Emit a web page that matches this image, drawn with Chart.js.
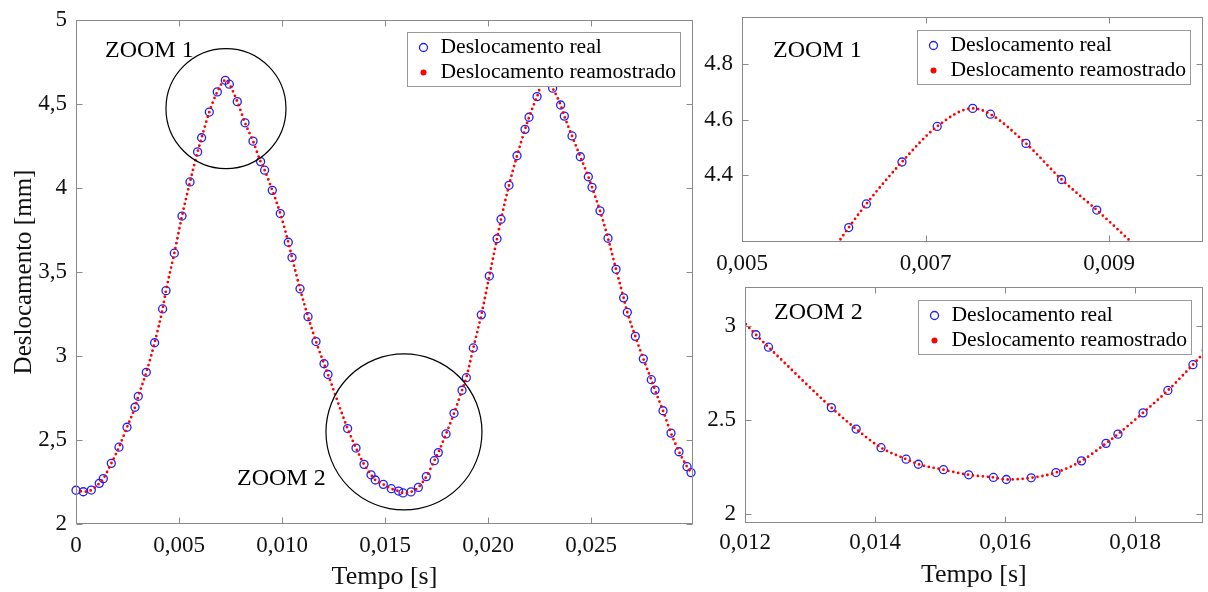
<!DOCTYPE html>
<html>
<head>
<meta charset="utf-8">
<script src="https://cdn.jsdelivr.net/npm/chart.js@4.4.0/dist/chart.umd.min.js"></script>
<style>
  body { margin: 0; background: #fff; width: 1208px; height: 592px; overflow: hidden; position: relative; }
  canvas { position: absolute; }
</style>
</head>
<body>
<canvas id="mainChart" width="700" height="592" style="left:0;top:0"></canvas>
<canvas id="zoom1Chart" width="508" height="282" style="left:700px;top:0"></canvas>
<canvas id="zoom2Chart" width="508" height="310" style="left:700px;top:282px"></canvas>
<script>
// main panel samples (time [s], displacement [mm])
var mainTime = [0, 0.000354, 0.000743, 0.001131, 0.001325, 0.001714, 0.002087, 0.002476, 0.002864, 0.003024,
  0.003413, 0.003816, 0.004204, 0.004369, 0.004772, 0.005146, 0.005534, 0.005903, 0.006097, 0.006471,
  0.006859, 0.007248, 0.007442, 0.007830, 0.008204, 0.008592, 0.008961, 0.009155, 0.009529, 0.009917,
  0.010306, 0.010485, 0.010874, 0.011262, 0.011650, 0.012039, 0.012233, 0.013184, 0.013592, 0.013981,
  0.014320, 0.014529, 0.014917, 0.015306, 0.015660, 0.015874, 0.016262, 0.016617, 0.017005, 0.017393,
  0.017587, 0.017961, 0.018350, 0.018738, 0.018947, 0.019286, 0.019675, 0.020063, 0.020437, 0.020631,
  0.021019, 0.021408, 0.021796, 0.021990, 0.022379, 0.022767, 0.023136, 0.023524, 0.023704, 0.024078,
  0.024481, 0.024869, 0.025049, 0.025437, 0.025825, 0.026214, 0.026583, 0.026762, 0.027150, 0.027539,
  0.027927, 0.028107, 0.028495, 0.028883, 0.029272, 0.029660, 0.029854];
var mainDisp = [2.201, 2.192, 2.202, 2.242, 2.270, 2.361, 2.457, 2.576, 2.695, 2.760,
  2.903, 3.079, 3.280, 3.389, 3.612, 3.833, 4.036, 4.215, 4.299, 4.452,
  4.572, 4.641, 4.618, 4.514, 4.388, 4.279, 4.157, 4.106, 3.986, 3.848,
  3.677, 3.586, 3.400, 3.234, 3.086, 2.954, 2.890, 2.568, 2.452, 2.355,
  2.293, 2.262, 2.236, 2.210, 2.196, 2.185, 2.191, 2.218, 2.282, 2.377,
  2.425, 2.536, 2.659, 2.796, 2.871, 3.048, 3.245, 3.476, 3.698, 3.814,
  4.016, 4.192, 4.349, 4.421, 4.544, 4.660, 4.594, 4.494, 4.428, 4.310,
  4.186, 4.067, 4.004, 3.864, 3.701, 3.516, 3.346, 3.260, 3.117, 2.983,
  2.859, 2.797, 2.674, 2.541, 2.430, 2.341, 2.306];

// zoom 1 samples
var zoom1Time = [0.005795, 0.006163, 0.006355, 0.006743, 0.007127, 0.007514, 0.007707, 0.008094, 0.008482, 0.008866, 0.009415];
var zoom1Disp = [4.036, 4.212, 4.297, 4.448, 4.576, 4.641, 4.620, 4.515, 4.385, 4.275, 4.106];

// zoom 2 samples
var zoom2Time = [0.011800, 0.012168, 0.012362, 0.013328, 0.013710, 0.014092, 0.014478, 0.014667, 0.015053, 0.015440,
  0.015821, 0.016020, 0.016402, 0.016783, 0.017176, 0.017553, 0.017736, 0.018122, 0.018504, 0.018890, 0.019095];
var zoom2Disp = [3.086, 2.953, 2.887, 2.566, 2.452, 2.353, 2.292, 2.265, 2.236, 2.209,
  2.195, 2.184, 2.193, 2.221, 2.283, 2.376, 2.425, 2.538, 2.657, 2.794, 2.871];

// ticks
var mainXTicks = [0, 0.005, 0.010, 0.015, 0.020, 0.025];
var mainXLabels = ["0", "0,005", "0,010", "0,015", "0,020", "0,025"];
var mainYTicks = [2, 2.5, 3, 3.5, 4, 4.5, 5];
var mainYLabels = ["2", "2,5", "3", "3,5", "4", "4,5", "5"];
var zoom1XTicks = [0.005, 0.007, 0.009];
var zoom1XLabels = ["0,005", "0,007", "0,009"];
var zoom1YTicks = [4.4, 4.6, 4.8];
var zoom1YLabels = ["4.4", "4.6", "4.8"];
var zoom2XTicks = [0.012, 0.014, 0.016, 0.018];
var zoom2XLabels = ["0,012", "0,014", "0,016", "0,018"];
var zoom2YTicks = [2, 2.5, 3];
var zoom2YLabels = ["2", "2.5", "3"];

var legendLabels = ["Deslocamento real", "Deslocamento reamostrado"];
var FONT = '"Liberation Serif", "Times New Roman", serif';
var TEXT = "#111";
var AXIS = "#8a8a8a";

// box, inward ticks, notes, circles and the framed legend
var panelDecor = {
  id: "panelDecor",
  afterDatasetsDraw: function(chart, args, opts) {
    var ctx = chart.ctx, a = chart.chartArea;
    var xs = chart.scales.x, ys = chart.scales.y;
    ctx.save();

    ctx.strokeStyle = "#000";
    ctx.lineWidth = 1.2;
    (opts.circles || []).forEach(function(c) {
      ctx.beginPath();
      ctx.arc(xs.getPixelForValue(c.t), ys.getPixelForValue(c.v), c.r, 0, 2 * Math.PI);
      ctx.stroke();
    });

    ctx.font = "24px " + FONT;
    ctx.fillStyle = "#000";
    ctx.textBaseline = "middle";
    ctx.textAlign = "left";
    (opts.notes || []).forEach(function(n) { ctx.fillText(n.text, n.x, n.y); });

    // axes box with ticks pointing inwards
    ctx.strokeStyle = AXIS;
    ctx.lineWidth = 1;
    var L = Math.round(a.left) + 0.5, R = Math.round(a.right) - 0.5;
    var T = Math.round(a.top) + 0.5, B = Math.round(a.bottom) - 0.5;
    ctx.strokeRect(L, T, R - L, B - T);
    ctx.beginPath();
    xs.ticks.forEach(function(t) {
      var px = Math.round(xs.getPixelForValue(t.value)) + 0.5;
      ctx.moveTo(px, B); ctx.lineTo(px, B - 6);
      ctx.moveTo(px, T); ctx.lineTo(px, T + 6);
    });
    ys.ticks.forEach(function(t) {
      var py = Math.round(ys.getPixelForValue(t.value)) + 0.5;
      ctx.moveTo(L, py); ctx.lineTo(L + 6, py);
      ctx.moveTo(R, py); ctx.lineTo(R - 6, py);
    });
    ctx.stroke();

    // legend
    var w = 273, h = 54;
    var bx = Math.round(a.right - opts.legendRight - w) - 0.5;
    var by = Math.round(a.top + opts.legendTop) + 0.5;
    ctx.fillStyle = "#fff";
    ctx.fillRect(bx, by, w, h);
    ctx.strokeStyle = "#9a9a9a";
    ctx.strokeRect(bx, by, w, h);

    ctx.beginPath();
    ctx.arc(bx + 16, by + 15, 4, 0, 2 * Math.PI);
    ctx.strokeStyle = "#1f1fff";
    ctx.lineWidth = 1.3;
    ctx.stroke();
    ctx.beginPath();
    ctx.arc(bx + 16, by + 40, 3, 0, 2 * Math.PI);
    ctx.fillStyle = "#ff0000";
    ctx.fill();

    ctx.font = "21.6px " + FONT;
    ctx.fillStyle = "#000";
    ctx.fillText(legendLabels[0], bx + 33, by + 15);
    ctx.fillText(legendLabels[1], bx + 33, by + 40);
    ctx.restore();
  }
};

function makePanel(id, p) {
  var ctx = document.getElementById(id).getContext("2d");
  var points = p.time.map(function(t, i) { return { x: t, y: p.disp[i] }; });
  return new Chart(ctx, {
    type: "line",
    data: {
      datasets: [{
        label: legendLabels[1],
        data: points,
        borderColor: "#ff0000",
        borderWidth: 2.8,
        borderDash: [0, 5],
        borderCapStyle: "round",
        cubicInterpolationMode: "monotone",
        pointRadius: 0,
        fill: false,
        clip: 0
      }, {
        label: legendLabels[0],
        data: points,
        showLine: false,
        pointRadius: 4,
        pointBorderWidth: 1.3,
        pointBorderColor: "#1f1fff",
        pointBackgroundColor: "rgba(0,0,0,0)",
        clip: p.pointClip
      }]
    },
    plugins: [panelDecor],
    options: {
      responsive: false,
      animation: false,
      layout: { padding: p.padding },
      plugins: {
        legend: { display: false },
        tooltip: { enabled: false },
        panelDecor: { circles: p.circles, notes: p.notes, legendRight: p.legendRight, legendTop: p.legendTop }
      },
      scales: {
        x: {
          type: "linear",
          min: p.xMin,
          max: p.xMax,
          grid: { display: false, drawTicks: false },
          border: { display: false },
          afterBuildTicks: function(s) { s.ticks = p.xTicks.map(function(v) { return { value: v }; }); },
          afterFit: function(s) { s.height = p.xHeight; s.paddingLeft = 0; s.paddingRight = 0; },
          ticks: {
            padding: p.xPad,
            maxRotation: 0,
            autoSkip: false,
            color: TEXT,
            font: { family: FONT, size: 23 },
            callback: function(v, i) { return p.xLabels[i]; }
          },
          title: {
            display: !!p.xTitle,
            text: p.xTitle,
            color: TEXT,
            font: { family: FONT, size: 26, lineHeight: 1 },
            padding: { top: 0, bottom: p.xTitlePad }
          }
        },
        y: {
          type: "linear",
          min: p.yMin,
          max: p.yMax,
          grid: { display: false, drawTicks: false },
          border: { display: false },
          afterBuildTicks: function(s) { s.ticks = p.yTicks.map(function(v) { return { value: v }; }); },
          afterFit: function(s) { s.width = p.yWidth; s.paddingTop = 0; s.paddingBottom = 0; },
          ticks: {
            padding: p.yPad,
            autoSkip: false,
            color: TEXT,
            font: { family: FONT, size: 23 },
            callback: function(v, i) { return p.yLabels[i]; }
          },
          title: {
            display: !!p.yTitle,
            text: p.yTitle,
            color: TEXT,
            font: { family: FONT, size: 25, lineHeight: 1 },
            padding: { top: p.yTitlePad, bottom: 0 }
          }
        }
      }
    }
  });
}

makePanel("mainChart", {
  time: mainTime, disp: mainDisp,
  xMin: 0, xMax: 0.02995, yMin: 2, yMax: 5,
  xTicks: mainXTicks, xLabels: mainXLabels, yTicks: mainYTicks, yLabels: mainYLabels,
  padding: { left: 0, top: 20, right: 7, bottom: 0 },
  yWidth: 76, xHeight: 68, xPad: 8, yPad: 9,
  xTitle: "Tempo [s]", xTitlePad: 2, yTitle: "Deslocamento [mm]", yTitlePad: 12,
  pointClip: false,
  circles: [{ t: 0.00728, v: 4.473, r: 60 }, { t: 0.01592, v: 2.548, r: 78 }],
  notes: [{ text: "ZOOM 1", x: 105, y: 51 }, { text: "ZOOM 2", x: 237, y: 479 }],
  legendRight: 12, legendTop: 12
});

makePanel("zoom1Chart", {
  time: zoom1Time, disp: zoom1Disp,
  xMin: 0.005, xMax: 0.01002, yMin: 4.16, yMax: 4.97,
  xTicks: zoom1XTicks, xLabels: zoom1XLabels, yTicks: zoom1YTicks, yLabels: zoom1YLabels,
  padding: { left: 0, top: 17, right: 4, bottom: 0 },
  yWidth: 42, xHeight: 40, xPad: 8, yPad: 9,
  xTitle: "", xTitlePad: 0, yTitle: "", yTitlePad: 0,
  pointClip: 0,
  circles: [],
  notes: [{ text: "ZOOM 1", x: 73, y: 51 }],
  legendRight: 12, legendTop: 13
});

makePanel("zoom2Chart", {
  time: zoom2Time, disp: zoom2Disp,
  xMin: 0.012, xMax: 0.01904, yMin: 1.953, yMax: 3.205,
  xTicks: zoom2XTicks, xLabels: zoom2XLabels, yTicks: zoom2YTicks, yLabels: zoom2YLabels,
  padding: { left: 0, top: 3, right: 1, bottom: 0 },
  yWidth: 45, xHeight: 69, xPad: 6, yPad: 9,
  xTitle: "Tempo [s]", xTitlePad: 4, yTitle: "", yTitlePad: 0,
  pointClip: 0,
  circles: [],
  notes: [{ text: "ZOOM 2", x: 74, y: 31 }],
  legendRight: 11, legendTop: 13
});
</script>
</body>
</html>
